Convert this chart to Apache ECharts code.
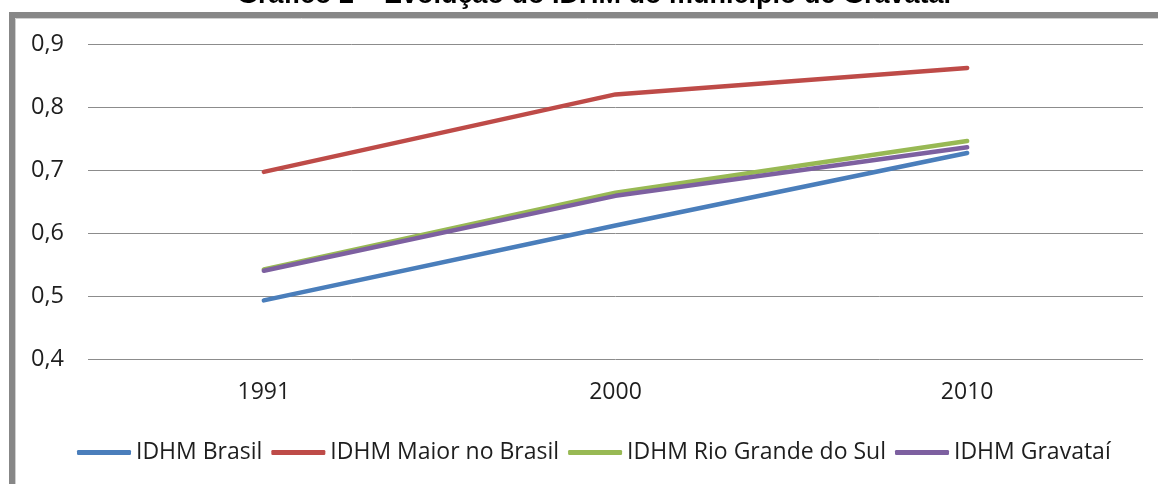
<!DOCTYPE html>
<html>
<head>
<meta charset="utf-8">
<script src="https://cdn.jsdelivr.net/npm/echarts@6/dist/echarts.min.js"></script>
<style>
  html, body { margin: 0; padding: 0; background: #ffffff; }
  #chart { width: 1158px; height: 484px; }
</style>
</head>
<body>
<div id="chart"></div>
<script>
// Anos do censo e valores do IDHM
const years = ['1991', '2000', '2010'];
const idhmBrasil = [0.493, 0.612, 0.727];
const idhmMaiorBrasil = [0.697, 0.820, 0.862];
const idhmRioGrandeSul = [0.542, 0.664, 0.746];
const idhmGravatai = [0.540, 0.659, 0.736];
const seriesNames = ['IDHM Brasil', 'IDHM Maior no Brasil', 'IDHM Rio Grande do Sul', 'IDHM Gravataí'];
const seriesColors = ['#4a7ebb', '#be4b48', '#98b954', '#7d60a0'];
const titleText = 'Gráfico 2 – Evolução do IDHM do município de Gravataí';

const labelFont = '"Open Sans", sans-serif';
const allData = [idhmBrasil, idhmMaiorBrasil, idhmRioGrandeSul, idhmGravatai];

const chart = echarts.init(document.getElementById('chart'), null, { renderer: 'canvas' });

chart.setOption({
  animation: false,
  backgroundColor: '#ffffff',
  graphic: [
    {
      type: 'text',
      x: 594,
      y: 9,
      style: {
        text: titleText,
        fontFamily: '"Liberation Sans", Arial, sans-serif',
        fontWeight: 'bold',
        fontSize: 27,
        fill: '#000000',
        align: 'center',
        verticalAlign: 'bottom'
      },
      z: 10
    },
    {
      type: 'rect',
      shape: { x: 12, y: 15, width: 1300, height: 700 },
      style: { fill: null, stroke: '#878787', lineWidth: 6 },
      z: 5
    },
    {
      type: 'rect',
      shape: { x: 15.5, y: 18.5, width: 1300, height: 700 },
      style: { fill: null, stroke: '#d0d0d0', lineWidth: 1 },
      z: 5
    }
  ],
  grid: { left: 88, right: 15, top: 44, bottom: 125, containLabel: false },
  legend: {
    left: 72,
    top: 436,
    icon: 'roundRect',
    itemWidth: 54,
    itemHeight: 5,
    itemGap: 9,
    textStyle: { fontFamily: labelFont, fontSize: 23, color: '#1e1e1e' },
    data: seriesNames
  },
  xAxis: {
    type: 'category',
    data: years,
    boundaryGap: true,
    axisLine: { show: false },
    axisTick: { show: false },
    axisLabel: { fontFamily: labelFont, fontSize: 23, color: '#1e1e1e', margin: 22 }
  },
  yAxis: {
    type: 'value',
    min: 0.4,
    max: 0.9,
    interval: 0.1,
    axisLine: { show: false },
    axisTick: { show: false },
    splitLine: { lineStyle: { color: '#8c8c8c', width: 1 } },
    axisLabel: {
      fontFamily: labelFont,
      fontSize: 23.5,
      color: '#1e1e1e',
      margin: 24,
      formatter: v => v.toFixed(1).replace('.', ',')
    }
  },
  series: seriesNames.map((name, i) => ({
    name: name,
    type: 'line',
    data: allData[i],
    symbol: 'none',
    color: seriesColors[i],
    lineStyle: { width: 4.5, color: seriesColors[i], cap: 'round', join: 'round' }
  }))
});
</script>
</body>
</html>
